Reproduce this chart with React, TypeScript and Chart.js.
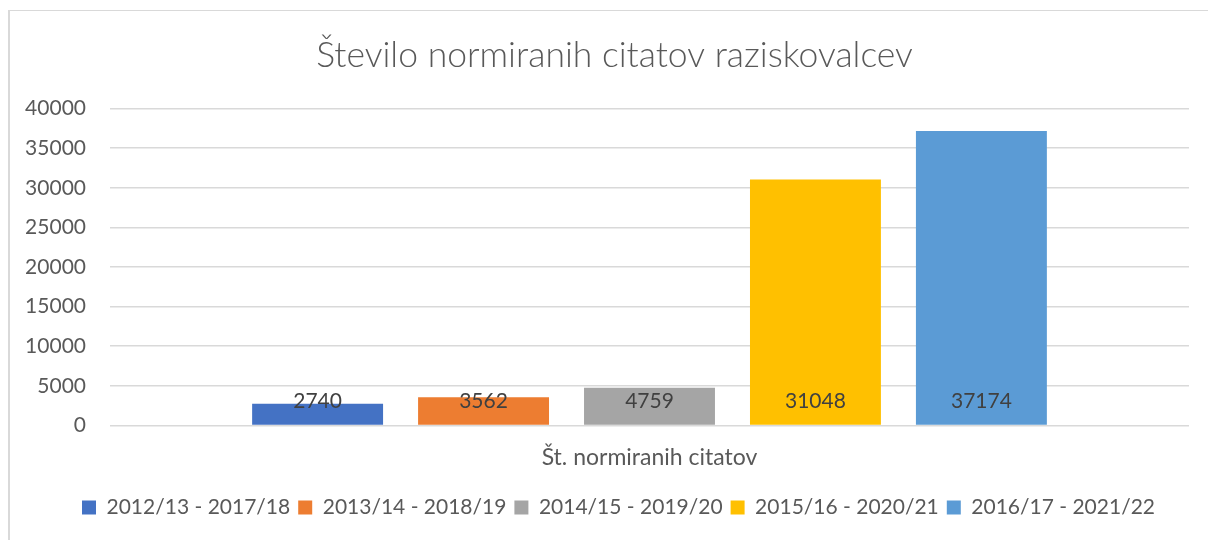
import React, { useEffect, useRef } from "react";
import { Chart, registerables } from "chart.js";

Chart.register(...registerables);

const categories = ["Št. normiranih citatov"];
const seriesNames = [
  "2012/13 - 2017/18",
  "2013/14 - 2018/19",
  "2014/15 - 2019/20",
  "2015/16 - 2020/21",
  "2016/17 - 2021/22",
];
const seriesValues = [2740, 3562, 4759, 31048, 37174];
const seriesColors = ["#4472C4", "#ED7D31", "#A5A5A5", "#FFC000", "#5B9BD5"];
const yTicks = [0, 5000, 10000, 15000, 20000, 25000, 30000, 35000, 40000];
const titleText = "Število normiranih citatov raziskovalcev";

const FONT = "Lato, 'Open Sans', sans-serif";

const frame = {
  id: "frame",
  beforeDraw(chart: any) {
    const ctx = chart.ctx;
    ctx.save();
    ctx.fillStyle = "#ffffff";
    ctx.fillRect(0, 0, chart.width, chart.height);
    ctx.fillStyle = "#d9d9d9";
    ctx.fillRect(0, 0, chart.width, 1);
    ctx.fillRect(0, 0, 2, chart.height);
    ctx.restore();
  },
};

const shiftBlocks = {
  id: "shiftBlocks",
  afterLayout(chart: any) {
    const t = chart.titleBlock;
    if (t) {
      t.left += 16;
      t.right += 16;
    }
    const l = chart.legend;
    if (l) {
      l.left += 20;
      l.right += 20;
    }
  },
};

const valueLabels = {
  id: "valueLabels",
  afterDatasetsDraw(chart: any) {
    const ctx = chart.ctx;
    const yScale = chart.scales.y;
    const base = yScale.getPixelForValue(0);
    ctx.save();
    ctx.font = `21px ${FONT}`;
    ctx.fillStyle = "#404040";
    ctx.textAlign = "center";
    ctx.textBaseline = "middle";
    chart.data.datasets.forEach((ds: any, i: number) => {
      const meta = chart.getDatasetMeta(i);
      meta.data.forEach((bar: any, j: number) => {
        ctx.fillText(String(ds.data[j]), bar.x, base - 24);
      });
    });
    ctx.restore();
  },
};

export default function App() {
  const ref = useRef<HTMLCanvasElement>(null);
  useEffect(() => {
    document.body.style.margin = "0";
    document.body.style.overflow = "hidden";
    const chart = new Chart(ref.current!, {
      type: "bar",
      data: {
        labels: categories,
        datasets: seriesNames.map((name, i) => ({
          label: name,
          data: [seriesValues[i]],
          backgroundColor: seriesColors[i],
          borderWidth: 0,
          categoryPercentage: 0.769,
          barPercentage: 0.789,
        })),
      },
      options: {
        responsive: false,
        animation: false,
        layout: { padding: { left: 0, right: 19, top: 0, bottom: 12 } },
        plugins: {
          title: {
            display: true,
            text: titleText,
            color: "#595959",
            font: { family: FONT, size: 35.5, weight: "300" as any },
            padding: { top: 24, bottom: 32 },
          },
          legend: {
            position: "bottom",
            labels: {
              boxWidth: 14,
              boxHeight: 14,
              color: "#595959",
              font: { family: FONT, size: 21 },
              padding: 8,
            },
          },
          tooltip: { enabled: false },
        },
        scales: {
          x: {
            grid: { display: false, drawTicks: false },
            border: { display: false },
            ticks: {
              color: "#595959",
              font: { family: FONT, size: 23 },
              padding: 18,
            },
          },
          y: {
            min: 0,
            max: 40000,
            afterFit(scale: any) {
              scale.width = 102;
            },
            afterBuildTicks(scale: any) {
              scale.ticks = yTicks.map((v) => ({ value: v }));
            },
            grid: { color: "#d9d9d9", lineWidth: 1.5, drawTicks: false },
            border: { display: false },
            ticks: {
              color: "#595959",
              font: { family: FONT, size: 21 },
              padding: 24,
              callback: (v: any) => String(v),
            },
          },
        },
      },
      plugins: [frame, shiftBlocks, valueLabels],
    });
    return () => chart.destroy();
  }, []);
  return (
    <div style={{ padding: "10px 0 0 8px" }}>
      <canvas ref={ref} width={1200} height={530} style={{ display: "block", width: 1200, height: 530 }} />
    </div>
  );
}
